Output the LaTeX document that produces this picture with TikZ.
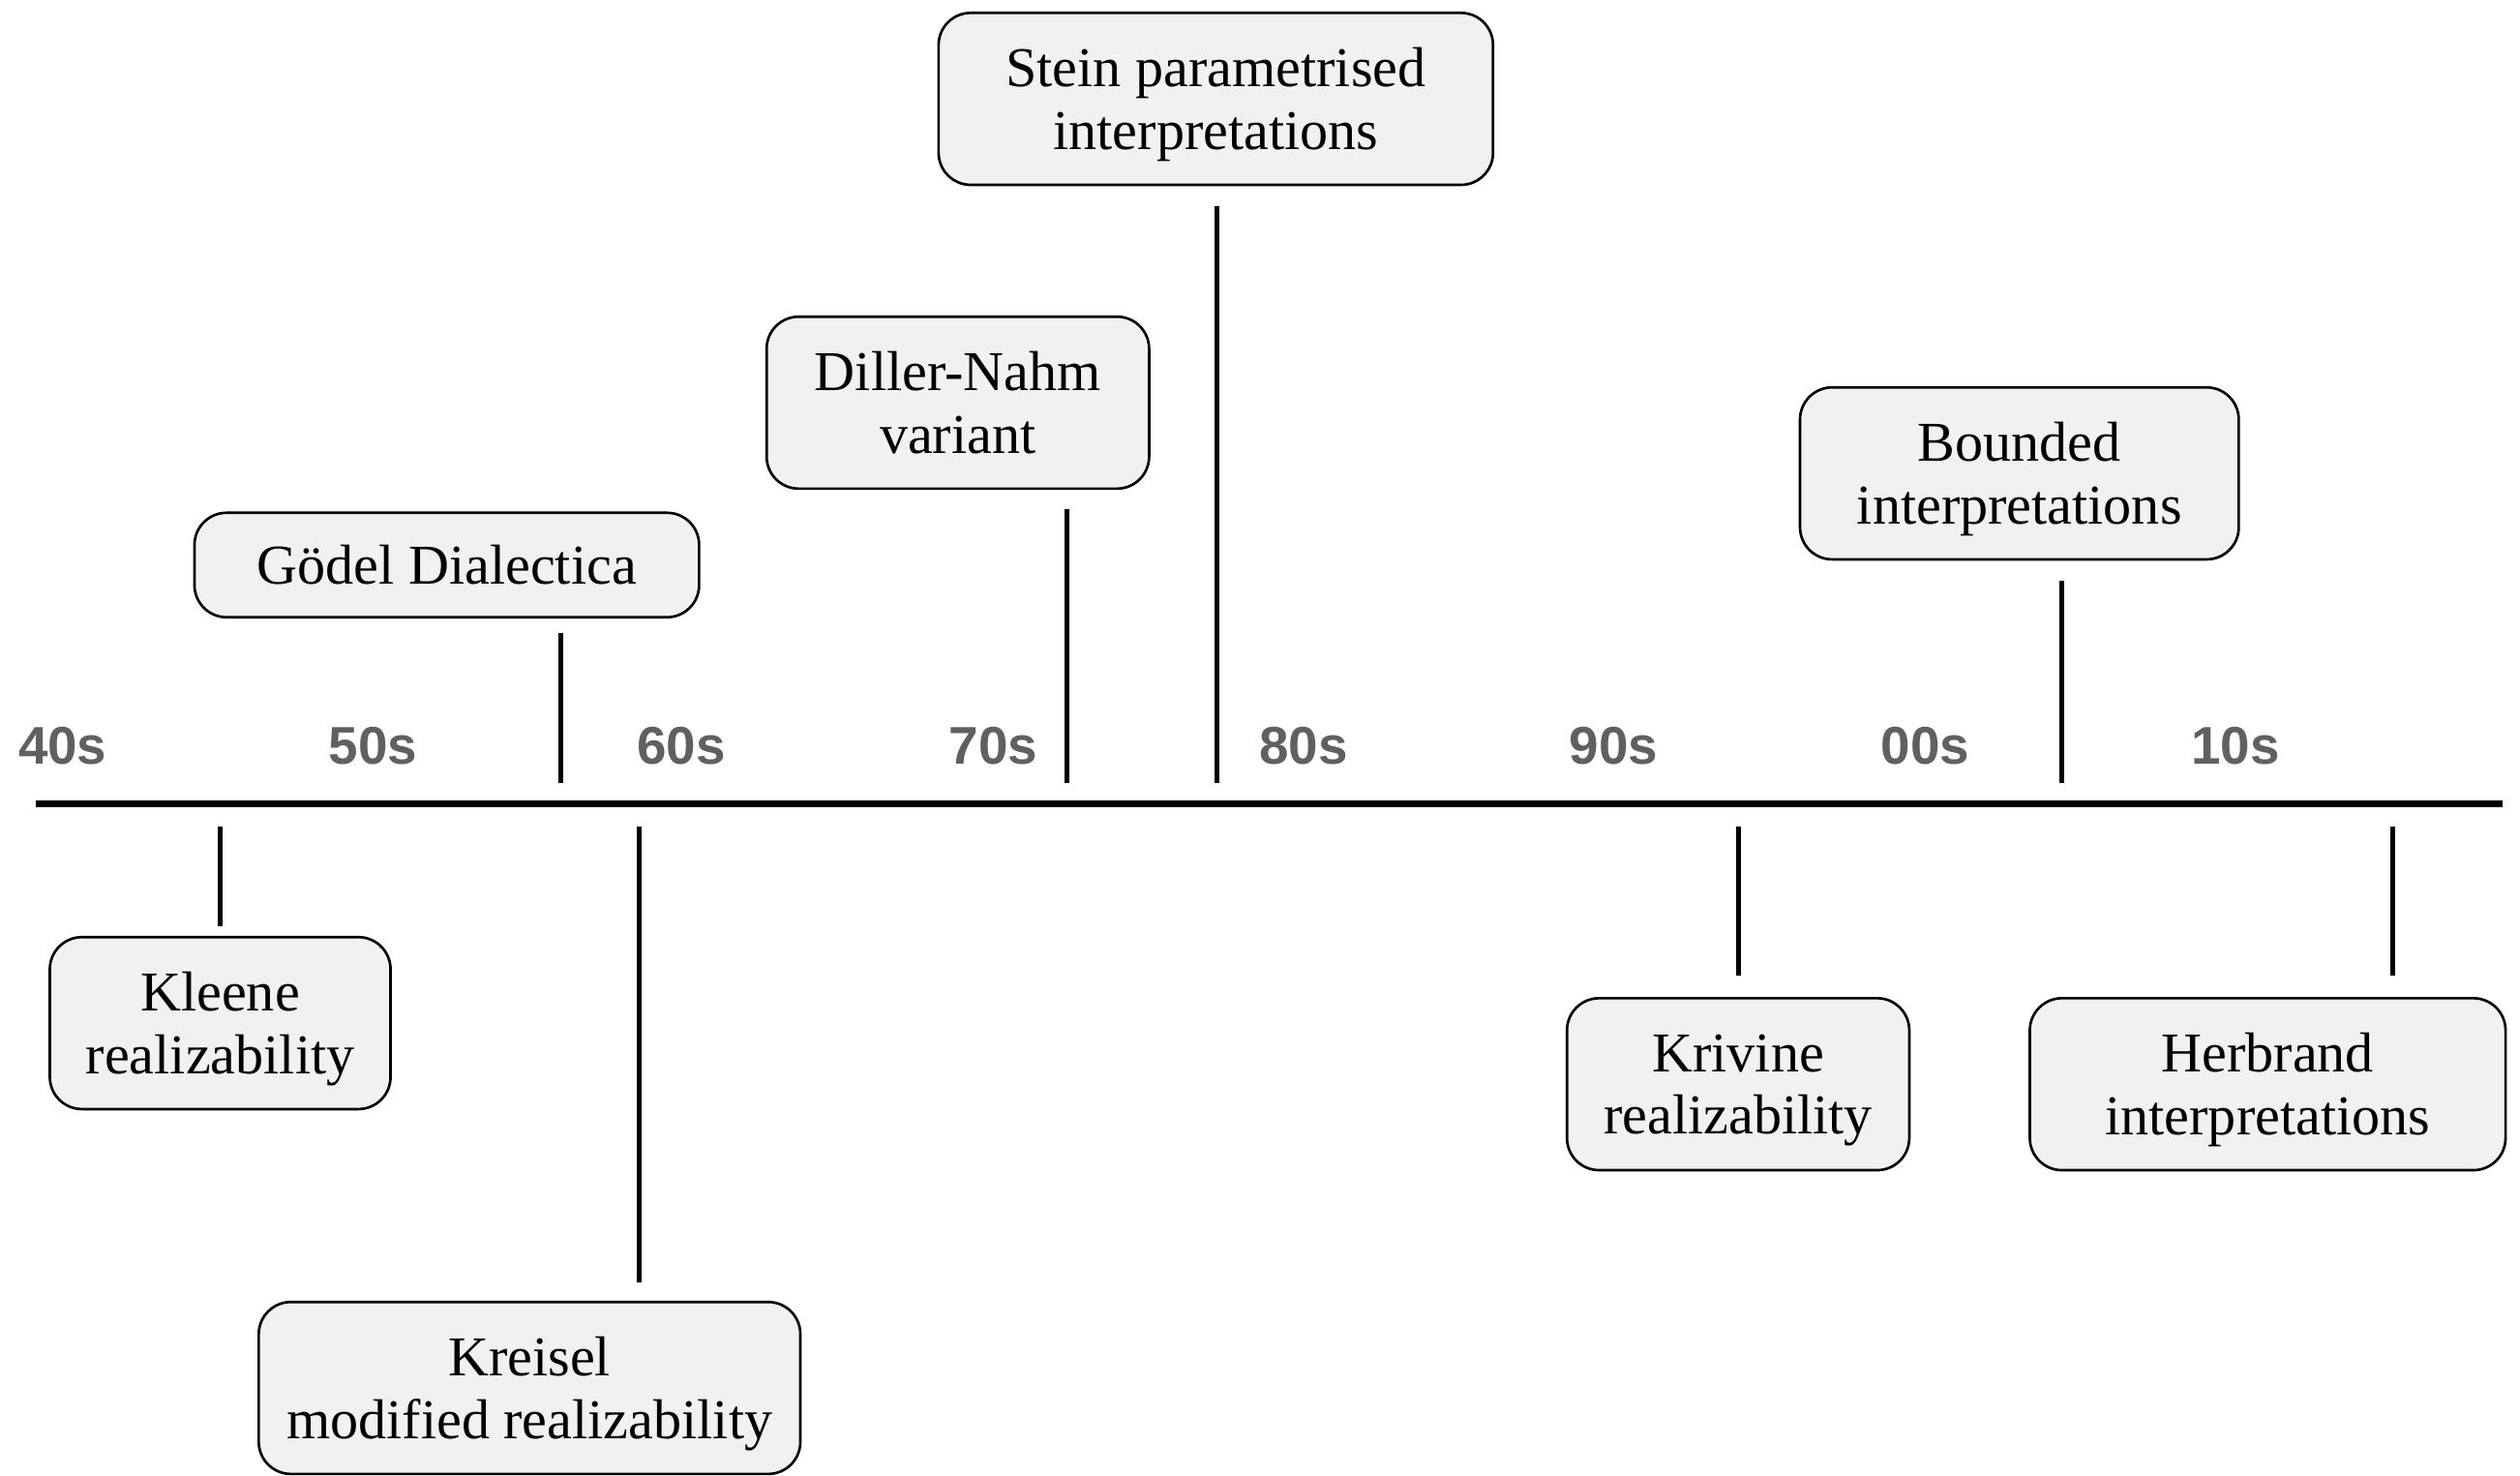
\documentclass[tikz,border=0pt]{standalone}
\usepackage{fontspec}
\setmainfont{Liberation Serif}
\newfontfamily\labfont{Liberation Sans}
\definecolor{labgray}{RGB}{96,96,96}
\definecolor{boxfill}{RGB}{241,241,241}
\begin{document}
\begin{tikzpicture}[x=0.5pt,y=-0.5pt,
  evbox/.style={draw=black, line width=0.8pt, fill=boxfill, rounded corners=10pt,
    align=center, font=\fontsize{17.5}{19.5}\selectfont, inner sep=0pt,
    minimum height=53.5pt, text depth=0pt},
  onebox/.style={evbox, minimum height=32.5pt},
  decade/.style={font=\labfont\bfseries\fontsize{16.5}{18}\selectfont, text=labgray, inner sep=0pt},
  tickline/.style={line width=1.5pt},
  axisline/.style={line width=2pt}
]
\useasboundingbox (0,0) rectangle (1568,918);

% axis
\coordinate (axL) at (22,500);
\coordinate (axR) at (1557,500);
\draw[axisline] (axL) -- (axR);

% decade labels
\node[decade] (d40) at (39,464) {40s};
\node[decade] (d50) at (232,464) {50s};
\node[decade] (d60) at (424,464) {60s};
\node[decade] (d70) at (618,464) {70s};
\node[decade] (d80) at (811,464) {80s};
\node[decade] (d90) at (1004,464) {90s};
\node[decade] (d00) at (1198,464) {00s};
\node[decade] (d10) at (1391,464) {10s};

% boxes
\node[evbox, minimum width=172.5pt] (stein) at (756.5,61.5) {Stein parametrised\\interpretations};
\node[evbox, minimum width=119pt] (diller) at (596,250.5) {Diller-Nahm\\variant};
\node[onebox, minimum width=157pt] (godel) at (278,351.5) {Gödel Dialectica};
\node[evbox, minimum width=136.5pt] (bounded) at (1256.5,294.5) {Bounded\\interpretations};
\node[evbox, minimum width=106pt] (kleene) at (137,636.5) {Kleene\\realizability};
\node[evbox, minimum width=168.5pt] (kreisel) at (329.5,863.5) {Kreisel\\modified realizability};
\node[evbox, minimum width=106.5pt] (krivine) at (1081.5,674.5) {Krivine\\realizability};
\node[evbox, minimum width=148pt] (herbrand) at (1411,674.5) {Herbrand\\interpretations};

% tick coordinates
\coordinate (tgA) at (349,394);  \coordinate (tgB) at (349,487);
\coordinate (tdA) at (664,317);  \coordinate (tdB) at (664,487);
\coordinate (tsA) at (757,128);  \coordinate (tsB) at (757,487);
\coordinate (tbA) at (1283,361); \coordinate (tbB) at (1283,487);
\coordinate (tkA) at (137,514);  \coordinate (tkB) at (137,576);
\coordinate (trA) at (398,514);  \coordinate (trB) at (398,798);
\coordinate (tvA) at (1082,514); \coordinate (tvB) at (1082,607);
\coordinate (thA) at (1489,514); \coordinate (thB) at (1489,607);

\draw[tickline] (tgA) -- (tgB);
\draw[tickline] (tdA) -- (tdB);
\draw[tickline] (tsA) -- (tsB);
\draw[tickline] (tbA) -- (tbB);
\draw[tickline] (tkA) -- (tkB);
\draw[tickline] (trA) -- (trB);
\draw[tickline] (tvA) -- (tvB);
\draw[tickline] (thA) -- (thB);
\end{tikzpicture}
\end{document}
